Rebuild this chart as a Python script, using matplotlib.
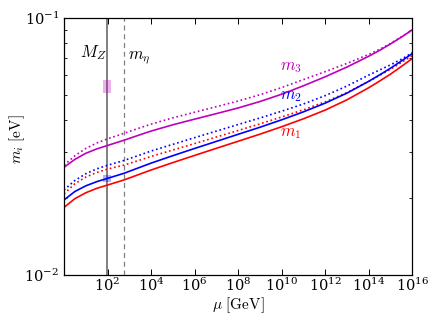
import numpy as np
import matplotlib
matplotlib.use("Agg")
import matplotlib.pyplot as plt
from matplotlib.ticker import FixedLocator, LogFormatterMathtext, NullLocator, LogLocator, NullFormatter
from matplotlib.patches import Rectangle

plt.rcParams['mathtext.fontset'] = 'cm'
plt.rcParams['font.family'] = 'DejaVu Serif'

# renormalisation scale grid, log10(mu/GeV)
log_mu = [0, 0.5, 1, 1.5, 2, 2.76, 3.5, 4, 5, 6, 7, 8, 9, 10, 11, 12, 13, 14, 14.5, 15, 15.5, 16]

# neutrino masses [eV]
m3_solid = [0.02624, 0.02818, 0.02975, 0.03094, 0.03192, 0.03346, 0.03516, 0.03631, 0.03842,
            0.04041, 0.04246, 0.04467, 0.04732, 0.05052, 0.05451, 0.05908, 0.06449, 0.07103,
            0.07489, 0.07932, 0.08433, 0.08995]
m3_dot = [0.02673, 0.02911, 0.03108, 0.03262, 0.03388, 0.03560, 0.03741, 0.03864, 0.04088,
          0.04299, 0.04519, 0.04753, 0.05029, 0.05364, 0.05761, 0.06186, 0.06661, 0.07218,
          0.07558, 0.07969, 0.08453, 0.08995]
m2_solid = [0.01959, 0.02113, 0.02223, 0.02307, 0.02377, 0.02488, 0.02627, 0.02725, 0.02913,
            0.03108, 0.03311, 0.03528, 0.03758, 0.04018, 0.04315, 0.04667, 0.05105, 0.05675,
            0.06012, 0.06383, 0.06808, 0.07278]
m2_dot = [0.02143, 0.02333, 0.02477, 0.02588, 0.02673, 0.02791, 0.02934, 0.03037, 0.03224,
          0.03423, 0.03631, 0.03851, 0.04083, 0.04340, 0.04630, 0.04990, 0.05440, 0.06000,
          0.06281, 0.06577, 0.06918, 0.07328]
m1_solid = [0.01832, 0.01982, 0.02089, 0.02173, 0.02239, 0.02344, 0.02472, 0.02562, 0.02738,
            0.02920, 0.03112, 0.03315, 0.03532, 0.03776, 0.04055, 0.04385, 0.04808, 0.05358,
            0.05689, 0.06053, 0.06486, 0.06961]
m1_dot = [0.02070, 0.02265, 0.02404, 0.02506, 0.02582, 0.02678, 0.02802, 0.02893, 0.03065,
          0.03246, 0.03443, 0.03651, 0.03873, 0.04121, 0.04395, 0.04721, 0.05129, 0.05675,
          0.05984, 0.06324, 0.06714, 0.07145]

M_Z = 91.19
m_eta = 550.0
# measured ranges at M_Z [eV]
m3_range = (0.0512, 0.0574)
m2_range = (0.0230, 0.0246)
box_log_halfwidth = 0.18

xticks_exp = [2, 4, 6, 8, 10, 12, 14, 16]

mu = 10.0 ** np.array(log_mu)

fig = plt.figure(figsize=(4.36, 3.27), dpi=100)
ax = fig.add_axes([0.1468, 0.159, 0.946 - 0.1468, 0.945 - 0.159])

lw = 1.2
ax.plot(mu, m3_dot, ':', color='m', lw=lw)
ax.plot(mu, m2_dot, ':', color='b', lw=lw)
ax.plot(mu, m1_dot, ':', color='r', lw=lw)
ax.plot(mu, m3_solid, '-', color='m', lw=lw)
ax.plot(mu, m2_solid, '-', color='b', lw=lw)
ax.plot(mu, m1_solid, '-', color='r', lw=lw)

ax.axvline(M_Z, color='0.5', lw=1.4, zorder=1)
ax.axvline(m_eta, color='0.5', lw=0.9, ls='--', dashes=(4, 3), zorder=1)

x0 = M_Z * 10 ** (-box_log_halfwidth)
x1 = M_Z * 10 ** (box_log_halfwidth)
ax.add_patch(Rectangle((x0, m3_range[0]), x1 - x0, m3_range[1] - m3_range[0],
                       facecolor='m', alpha=0.3, edgecolor='none', zorder=3))
ax.add_patch(Rectangle((x0, m2_range[0]), x1 - x0, m2_range[1] - m2_range[0],
                       facecolor='b', alpha=0.3, edgecolor='none', zorder=3))

ax.set_xscale('log')
ax.set_yscale('log')
ax.set_xlim(1, 1e16)
ax.set_ylim(0.01, 0.1)

ax.xaxis.set_major_locator(FixedLocator([10.0 ** e for e in xticks_exp]))
ax.xaxis.set_major_formatter(LogFormatterMathtext())
ax.xaxis.set_minor_locator(NullLocator())
ax.yaxis.set_major_formatter(LogFormatterMathtext())
ax.yaxis.set_minor_locator(LogLocator(base=10, subs=np.arange(2, 10)))
ax.yaxis.set_minor_formatter(NullFormatter())

ax.tick_params(which='both', direction='in', top=True, right=True, labelsize=10.5)
ax.tick_params(axis='x', which='major', pad=1.5)
ax.tick_params(which='major', length=4, width=0.7)
ax.tick_params(which='minor', length=2.5, width=0.6)
for s in ax.spines.values():
    s.set_linewidth(0.9)

ax.set_xlabel(r'$\mu\ \mathrm{[GeV]}$', fontsize=11, labelpad=1)
ax.set_ylabel(r'$m_i\ \mathrm{[eV]}$', fontsize=11)
ax.yaxis.set_label_coords(-0.105, 0.53)

ax.text(21, 0.0731, r'$M_Z$', fontsize=12, ha='center', va='center')
ax.text(2750, 0.0705, r'$m_\eta$', fontsize=12, ha='center', va='center')
ax.text(10 ** 10.42, 0.0650, r'$m_3$', fontsize=12, color='m', ha='center', va='center')
ax.text(10 ** 10.42, 0.0500, r'$m_2$', fontsize=12, color='b', ha='center', va='center')
ax.text(10 ** 10.42, 0.0357, r'$m_1$', fontsize=12, color='r', ha='center', va='center')

fig.savefig('out.png', dpi=100)
